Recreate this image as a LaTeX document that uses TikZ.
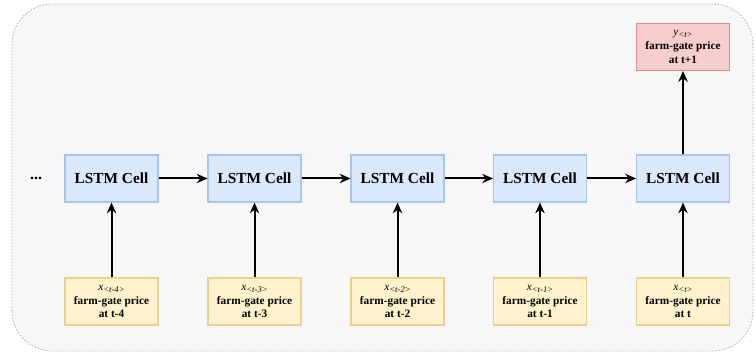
\documentclass[tikz,border=0pt]{standalone}
\usepackage{fontspec}
\setmainfont{Liberation Serif}
\usepackage{tikz}
\usetikzlibrary{arrows.meta,positioning,calc}
\definecolor{cellblue}{HTML}{DAE8FC}
\definecolor{cellline}{HTML}{A9C4EB}
\definecolor{inyellow}{HTML}{FFF2CC}
\definecolor{inline}{HTML}{E8D28F}
\definecolor{outred}{HTML}{F8CECC}
\definecolor{outline}{HTML}{D98E8B}
\definecolor{panelgray}{HTML}{F7F7F7}
\definecolor{panelline}{HTML}{B3B3B3}

\tikzset{
  cellbox/.style={draw=cellline, fill=cellblue, line width=0.8pt, minimum width=69.75pt, minimum height=35.25pt, inner sep=0pt, font=\fontsize{11.5}{13}\selectfont\bfseries},
  inbox/.style={draw=inline, fill=inyellow, line width=0.8pt, minimum width=69.75pt, minimum height=35.25pt, inner sep=0pt, align=center, font=\fontsize{8.5}{10.3}\selectfont\bfseries},
  outbox/.style={draw=outline, fill=outred, line width=0.8pt, minimum width=69.75pt, minimum height=35.25pt, inner sep=0pt, align=center, font=\fontsize{8.5}{10.3}\selectfont\bfseries},
  flow/.style={line width=1.5pt, -{Stealth[length=8pt,width=7pt,inset=2.5pt]}}
}
\newcommand{\steplabel}[2]{{\fontsize{8.5}{10}\selectfont\mdseries\itshape #1\raisebox{-0.35ex}{\fontsize{6.5}{7}\selectfont <#2>}}}

\begin{document}
\begin{tikzpicture}[x=0.75pt, y=0.75pt]
  \useasboundingbox (0,0) rectangle (756,353);
  % panel
  \draw[panelline, fill=panelgray, dashed, dash pattern=on 1.2pt off 1.2pt, rounded corners=30pt, line width=0.6pt] (12,2) rectangle (753,349);

  \node (dots) at (36,175) {\fontsize{12}{12}\selectfont\bfseries ...};

  % cells, inputs
  \foreach \i/\cx/\lab/\tt in {1/111.5/t-4/t-4, 2/254.5/t-3/t-3, 3/397.5/t-2/t-2, 4/540/t-1/t-1, 5/683/t/t} {
    \node[cellbox] (cell\i) at (\cx,174.5) {LSTM Cell};
    \node[inbox] (in\i) at (\cx,51.5) {\steplabel{x}{\lab}\\farm-gate price\\at \tt};
    \draw[flow] (in\i) -- (cell\i);
  }
  \node[outbox] (out) at (683,306) {\steplabel{y}{t}\\farm-gate price\\at t+1};

  \draw[flow] (cell1) -- (cell2);
  \draw[flow] (cell2) -- (cell3);
  \draw[flow] (cell3) -- (cell4);
  \draw[flow] (cell4) -- (cell5);
  \draw[flow] (cell5) -- (out);
\end{tikzpicture}
\end{document}
